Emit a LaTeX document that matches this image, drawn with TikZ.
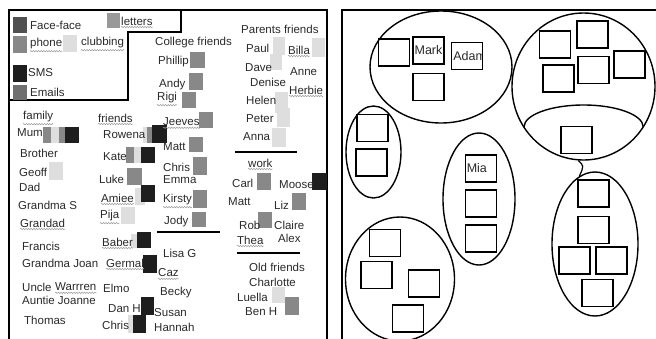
\documentclass[tikz,border=0pt]{standalone}
\usepackage{fontspec}
\setmainfont{Liberation Sans}
\usetikzlibrary{shapes.geometric,decorations.pathmorphing}
\definecolor{cdark}{HTML}{505050}
\definecolor{cmid}{HTML}{888888}
\definecolor{cmail}{HTML}{707070}
\definecolor{clet}{HTML}{999999}
\definecolor{cblk}{HTML}{1E1E1E}
\definecolor{clight}{HTML}{DEDEDE}
\definecolor{ctxt}{HTML}{2A2A2A}
\tikzset{
  lbl/.style={anchor=west,inner sep=0pt,text=ctxt,font=\fontsize{11.5}{12}\selectfont},
  squig/.style={draw=gray!80,line width=0.5pt,decorate,decoration={snake,amplitude=0.7pt,segment length=2.6pt}},
  panel/.style={draw=black,line width=2pt},
  rule/.style={draw=black,line width=2pt},
  ell/.style={ellipse,draw=black,line width=1.4pt,inner sep=0pt},
  bx/.style={rectangle,draw=black,line width=1.8pt,minimum width=31pt,minimum height=27pt,inner sep=0pt,font=\fontsize{12.5}{13}\selectfont,text=ctxt},
}
\newcommand\sqr[5]{\fill[#1] (#2,#3) rectangle (#4,#5);}
\newcommand\wv[1]{\draw[squig] ([yshift=-1.6pt]#1.south west) -- ([yshift=-1.6pt]#1.south east);}
\begin{document}
\begin{tikzpicture}[x=1pt,y=-1pt]
\useasboundingbox (0,0) rectangle (656,338);
\fill[white] (0,0) rectangle (656,338);
% panels
\draw[panel] (9,340) -- (9,10) -- (327,10) -- (327,340);
\draw[line width=2.5pt,line join=miter] (9,10) -- (181,10) -- (181,32) -- (128,32) -- (128,100) -- (9,100) -- cycle;
\draw[panel] (342,340) -- (342,10) -- (658,10);
% legend
\sqr{cdark}{13}{17}{27}{33}
\sqr{cmid}{13}{36}{27}{53}
\sqr{cblk}{13}{65}{27}{82}
\sqr{cmail}{13}{85}{27}{100}
\sqr{clet}{107}{13}{120}{28}
\sqr{clight}{63}{35}{77}{52}
\node[lbl] (lff) at (30,25) {Face-face};
\node[lbl] (lph) at (30,44) {phone}; \wv{lph}
\node[lbl] (lsms) at (28,73) {SMS};
\node[lbl] (lem) at (30,92) {Emails};
\node[lbl] (llet) at (121,21) {letters}; \wv{llet}
\node[lbl] (lclub) at (81,43) {clubbing}; \wv{lclub}
% squares people
\sqr{cmid}{43}{127}{52}{143}
\sqr{clight}{51}{127}{62}{143}
\sqr{cmid}{59}{127}{66}{143}
\sqr{cblk}{65}{127}{79}{143}
\sqr{clight}{49}{162}{63}{180}
\sqr{clight}{143}{127}{150}{143}
\sqr{cmid}{147}{127}{154}{143}
\sqr{cblk}{152}{125}{167}{143}
\sqr{cmid}{126}{147}{135}{163}
\sqr{clight}{134}{147}{141}{163}
\sqr{cblk}{141}{147}{155}{163}
\sqr{cmid}{127}{168}{142}{185}
\sqr{clight}{135}{188}{145}{205}
\sqr{cblk}{141}{185}{155}{202}
\sqr{clight}{121}{207}{135}{224}
\sqr{clight}{131}{234}{138}{248}
\sqr{cblk}{137}{232}{151}{248}
\sqr{cblk}{143}{255}{157}{273}
\sqr{cblk}{141}{297}{154}{315}
\sqr{clight}{128}{315}{134}{333}
\sqr{cblk}{133}{315}{146}{333}
\sqr{cmid}{190}{52}{205}{68}
\sqr{cmid}{189}{73}{203}{90}
\sqr{cmid}{182}{92}{196}{108}
\sqr{cmid}{199}{112}{213}{128}
\sqr{cmid}{189}{137}{203}{152}
\sqr{cmid}{193}{157}{207}{175}
\sqr{cmid}{193}{190}{207}{208}
\sqr{cmid}{192}{212}{206}{227}
\sqr{clight}{273}{37}{285}{55}
\sqr{clight}{270}{54}{282}{70}
\sqr{clight}{312}{38}{325}{57}
\sqr{clight}{275}{92}{288}{113}
\sqr{clight}{277}{108}{290}{127}
\sqr{clight}{272}{128}{286}{147}
\sqr{cmid}{257}{173}{271}{190}
\sqr{cblk}{312}{173}{327}{190}
\sqr{cmid}{292}{193}{306}{210}
\sqr{cmid}{258}{212}{272}{228}
\sqr{clight}{272}{287}{285}{303}
\sqr{cmid}{285}{297}{299}{315}
% family
\node[lbl] (fam) at (23,117) {family}; \wv{fam}
\node[lbl] (mum) at (17,133) {Mum};
\node[lbl] (bro) at (20,153) {Brother};
\node[lbl] (geo) at (19,172) {Geoff};
\node[lbl] (dad) at (19,187) {Dad};
\node[lbl] (gms) at (18,205) {Grandma S};
\node[lbl] (gdd) at (20,223) {Grandad}; \wv{gdd}
\node[lbl] (fra) at (22,246) {Francis};
\node[lbl] (gmj) at (22,263) {Grandma Joan};
\node[lbl] (unc) at (22,287) {Uncle};
\node[lbl] (war) at ([xshift=3.2pt]unc.east) {Warrren}; \wv{war}
\node[lbl] (aun) at (22,300) {Auntie Joanne};
\node[lbl] (tho) at (24,320) {Thomas};
% friends
\node[lbl] (fri) at (98,118) {friends}; \wv{fri}
\node[lbl] (row) at (103,135) {Rowena};
\node[lbl] (kat) at (103,157) {Kate};
\node[lbl] (luk) at (99,179) {Luke};
\node[lbl] (ami) at (101,198) {Amiee}; \wv{ami}
\node[lbl] (pij) at (100,216) {Pija}; \wv{pij}
\node[lbl] (bab) at (102,242) {Baber}; \wv{bab}
\node[lbl] (ger) at (106,263) {Germal}; \wv{ger}
\node[lbl] (elm) at (103,288) {Elmo};
\node[lbl] (dan) at (108,309) {Dan H};
\node[lbl] (chr) at (102,325) {Chris};
% college
\node[lbl] (col) at (155,43) {College friends};
\node[lbl] (phi) at (158,62) {Phillip};
\node[lbl] (and) at (159,85) {Andy};
\node[lbl] (rig) at (157,98) {Rigi}; \wv{rig}
\node[lbl] (jee) at (163,122) {Jeeves}; \wv{jee}
\node[lbl] (mat) at (163,147) {Matt};
\node[lbl] (chc) at (163,167) {Chris};
\node[lbl] (emm) at (163,180) {Emma};
\node[lbl] (kir) at (163,200) {Kirsty}; \wv{kir}
\node[lbl] (jod) at (164,222) {Jody};
\coordinate (r1a) at (157,232); \coordinate (r1b) at (220,232);
\draw[rule] (r1a) -- (r1b);
\node[lbl] (lis) at (163,253) {Lisa G};
\node[lbl] (caz) at (158,273) {Caz}; \wv{caz}
\node[lbl] (bec) at (160,293) {Becky};
\node[lbl] (sus) at (154,313) {Susan};
\node[lbl] (han) at (154,327) {Hannah};
% parents
\node[lbl] (par) at (241,29) {Parents friends};
\node[lbl] (pau) at (246,48) {Paul};
\node[lbl] (bil) at (288,50) {Billa}; \wv{bil}
\node[lbl] (dav) at (245,68) {Dave};
\node[lbl] (ann) at (290,72) {Anne};
\node[lbl] (den) at (250,82) {Denise};
\node[lbl] (her) at (289,90) {Herbie}; \wv{her}
\node[lbl] (hel) at (246,100) {Helen};
\node[lbl] (pet) at (246,119) {Peter};
\node[lbl] (anna) at (243,137) {Anna};
\coordinate (r2a) at (235,152); \coordinate (r2b) at (297,152);
\draw[rule] (r2a) -- (r2b);
\node[lbl] (wor) at (248,163) {work}; \wv{wor}
\node[lbl] (car) at (232,183) {Carl};
\node[lbl] (moo) at (279,185) {Moose};
\node[lbl] (mtw) at (228,202) {Matt};
\node[lbl] (liz) at (274,205) {Liz};
\node[lbl] (rob) at (239,225) {Rob};
\node[lbl] (cla) at (274,225) {Claire};
\node[lbl] (the) at (237,240) {Thea}; \wv{the}
\node[lbl] (ale) at (278,238) {Alex};
\coordinate (r3a) at (237,253); \coordinate (r3b) at (300,253);
\draw[rule] (r3a) -- (r3b);
\node[lbl] (old) at (249,267) {Old friends};
\node[lbl] (cha) at (249,282) {Charlotte};
\node[lbl] (lue) at (237,297) {Luella};
\node[lbl] (ben) at (245,312) {Ben H};
% right panel
\node[ell,minimum width=142pt,minimum height=112pt] (e1) at (441,67) {};
\node[ell,minimum width=55pt,minimum height=92pt] (e2) at (373.5,152) {};
\node[ell,minimum width=72pt,minimum height=132pt] (e3) at (479,199) {};
\node[ell,minimum width=109pt,minimum height=124pt] (e4) at (400,279) {};
\node[ell,minimum width=143pt,minimum height=147pt] (e5) at (583.5,86.5) {};
\node[ell,minimum width=86pt,minimum height=144pt] (e6) at (595,244) {};
\draw[line width=1.4pt] (524,127) arc[start angle=180,end angle=360,x radius=59.6,y radius=22];
\draw[line width=1.2pt] (e5.266) .. controls (584,166) .. (e6.103);
% boxes e1
\node[bx] (a1) at (394,52.5) {};
\node[bx] (mark) at (428.5,50.5) {Mark};
\node[bx,path picture={\node[font=\fontsize{12.5}{13}\selectfont,text=ctxt,inner sep=0pt,anchor=west] (adamt) at ([xshift=1pt]path picture bounding box.west) {Adam};}] (adam) at (467,56) {};
\node[bx] (a4) at (428.5,87) {};
% e2
\node[bx] (b1) at (372.5,128) {};
\node[bx] (b2) at (371.5,162.5) {};
% e3
\node[bx] (mia) at (481,168.5) {};
\node[lbl,font=\fontsize{12.5}{13}\selectfont] (mial) at ([xshift=2pt]mia.west) {Mia};
\node[bx] (c2) at (481,203.5) {};
\node[bx] (c3) at (481,238.5) {};
% e4
\node[bx] (d1) at (385,243) {};
\node[bx] (d2) at (376.5,275) {};
\node[bx] (d3) at (424,283.5) {};
\node[bx] (d4) at (408,318.5) {};
% e5
\node[bx] (f1) at (555,44.5) {};
\node[bx] (f2) at (592.5,34.5) {};
\node[bx] (f3) at (629.5,64.5) {};
\node[bx] (f4) at (593.5,70) {};
\node[bx] (f5) at (558.5,78.5) {};
\node[bx] (f6) at (576.5,140) {};
% e6
\node[bx] (g1) at (593.5,193.5) {};
\node[bx] (g2) at (593.5,230) {};
\node[bx] (g3) at (574.5,260.5) {};
\node[bx] (g4) at (611.5,260.5) {};
\node[bx] (g5) at (597.5,293) {};
\end{tikzpicture}
\end{document}
